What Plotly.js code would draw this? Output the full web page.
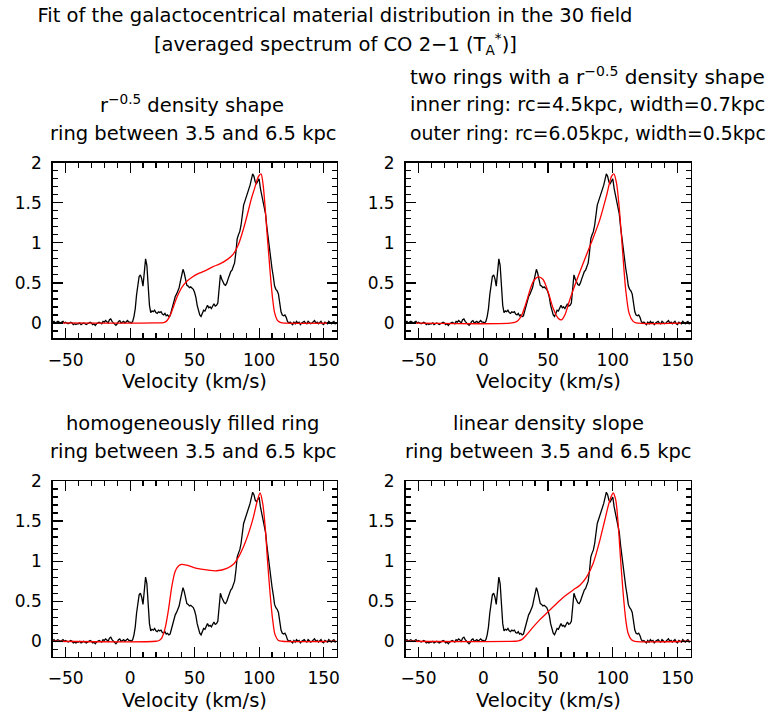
<!DOCTYPE html>
<html>
<head>
<meta charset="utf-8">
<script src="https://cdn.plot.ly/plotly-3.0.1.min.js"></script>
<style>html,body{margin:0;padding:0;background:#fff;} #chart{width:771px;height:715px;}</style>
</head>
<body>
<div id="chart"></div>
<script>
// Observed averaged CO 2-1 spectrum (velocity in km/s, T_A* in K)
const velocity = [
-60,-59,-58,-57,-56,-55,-54,-53,-52,-51,
-50,-49,-48,-47,-46,-45,-44,-43,-42,-41,
-40,-39,-38,-37,-36,-35,-34,-33,-32,-31,
-30,-29,-28,-27,-26,-25,-24,-23,-22,-21,
-20,-19,-18,-17,-16,-15,-14,-13,-12,-11,
-10,-9,-8,-7,-6,-5,-4,-3,-2,-1,
0,1,2,3,4,5,6,7,8,9,
10,11,12,13,14,15,16,17,18,19,
20,21,22,23,24,25,26,27,28,29,
30,31,32,33,34,35,36,37,38,39,
40,41,42,43,44,45,46,47,48,49,
50,51,52,53,54,55,56,57,58,59,
60,61,62,63,64,65,66,67,68,69,
70,71,72,73,74,75,76,77,78,79,
80,81,82,83,84,85,86,87,88,89,
90,91,92,93,94,95,96,97,98,99,
100,101,102,103,104,105,106,107,108,109,
110,111,112,113,114,115,116,117,118,119,
120,121,122,123,124,125,126,127,128,129,
130,131,132,133,134,135,136,137,138,139,
140,141,142,143,144,145,146,147,148,149,
150,151,152,153,154,155,156,157,158,159,
160];
const spectrum = [
0.01,0.02,0.0,0.01,0.02,0.01,0.0,0.01,0.02,0.0,
0.01,0.0,-0.01,0.0,0.01,0.0,-0.02,-0.01,-0.02,-0.01,
-0.01,0.0,-0.02,-0.01,0.0,-0.01,-0.02,-0.01,0.0,0.01,
0.0,-0.02,-0.01,-0.03,-0.01,0.0,0.01,0.0,-0.01,0.02,
0.01,0.03,0.02,0.0,0.04,0.05,0.02,0.0,-0.02,-0.03,
-0.01,0.02,0.03,0.0,0.01,0.02,0.0,0.01,0.03,0.01,
0.01,0.0,0.02,0.08,0.18,0.35,0.5,0.58,0.6,0.55,
0.46,0.65,0.8,0.72,0.5,0.22,0.13,0.15,0.14,0.16,
0.13,0.12,0.14,0.13,0.14,0.11,0.1,0.12,0.09,0.1,
0.08,0.09,0.15,0.22,0.3,0.33,0.36,0.4,0.44,0.52,
0.6,0.67,0.62,0.52,0.47,0.46,0.44,0.45,0.43,0.42,
0.38,0.32,0.22,0.15,0.1,0.08,0.12,0.16,0.15,0.2,
0.22,0.19,0.2,0.18,0.22,0.24,0.21,0.22,0.25,0.45,
0.6,0.55,0.52,0.48,0.47,0.5,0.55,0.6,0.64,0.66,
0.7,0.75,0.88,1.05,1.1,1.14,1.22,1.35,1.47,1.52,
1.58,1.64,1.67,1.72,1.8,1.86,1.83,1.76,1.74,1.78,
1.8,1.68,1.6,1.52,1.48,1.36,1.2,1.05,0.93,0.8,
0.68,0.58,0.46,0.42,0.4,0.36,0.26,0.14,0.1,0.09,
0.1,0.07,0.02,0.0,0.01,0.0,-0.02,0.01,-0.01,0.02,
0.0,0.01,-0.02,0.0,0.01,0.02,0.0,-0.01,0.02,0.01,
-0.01,0.0,0.02,0.03,0.0,0.01,-0.01,0.0,0.02,-0.01,
-0.02,0.01,0.0,-0.01,0.02,0.0,-0.01,0.01,0.02,-0.01,
0.0];

// Model fits (red curves)
const fit1V = [-60,20,26,28,30,32,34,36,38,40,44,48,52,58,64,70,76,80,84,88,91,94,96.5,98.5,100,101.5,103,104.5,106,107.5,109,110.5,112,114,116,118,160];
const fit1T = [0,0,0.005,0.02,0.06,0.13,0.22,0.31,0.38,0.44,0.52,0.57,0.61,0.65,0.7,0.74,0.8,0.86,0.98,1.18,1.36,1.55,1.68,1.79,1.84,1.86,1.74,1.48,1.15,0.85,0.55,0.3,0.13,0.04,0.01,0,0];

const fit2V = [-60,22,26,28.3,30,32,34,36,39,42.5,46,50,54,57.8,60.4,63,66.8,70.7,74.6,79.7,84.8,90,95,99,100.8,102.8,104.9,107.5,110,112.6,115.7,118,160];
const fit2T = [0,0,0.02,0.06,0.11,0.2,0.3,0.41,0.53,0.575,0.545,0.39,0.18,0.06,0.04,0.1,0.29,0.47,0.64,0.85,1.06,1.29,1.58,1.83,1.86,1.75,1.45,0.91,0.41,0.12,0.02,0,0];

const fit3V = [-60,20,22.5,24.5,27.1,29.7,32.3,34.9,37.5,40,43.9,51.7,59.4,67.2,75,80.1,84,87.9,91.7,95.6,98.7,100.8,102.8,104.7,106.5,108.5,110.5,112.4,115,118,160];
const fit3T = [0,0,0.01,0.04,0.16,0.39,0.68,0.87,0.94,0.96,0.95,0.91,0.89,0.88,0.91,0.96,1.05,1.18,1.34,1.55,1.76,1.85,1.72,1.43,1.01,0.6,0.27,0.08,0.01,0,0];

const fit4V = [-60,25,27,29.6,33.4,38.6,43.7,48.8,54,59.1,64.3,69.4,74.6,79.7,84.8,90,93.8,97.7,100.3,102.3,104.1,105.9,108,110,111.8,114.4,117,160];
const fit4T = [0,0,0.005,0.02,0.08,0.18,0.27,0.35,0.43,0.51,0.58,0.64,0.7,0.8,0.97,1.26,1.51,1.76,1.85,1.76,1.47,1.05,0.6,0.27,0.1,0.02,0,0];

const xTickStep = 50, xMinorStep = 10, yTickStep = 0.5, yMinorStep = 0.1;
const xRange = [-60, 160], yRange = [-0.19, 2];

const W = 771, H = 715;
const FONT = 'DejaVu Sans';
const fx = p => p / W;
const fy = p => 1 - p / H;

const fits = [[fit1V, fit1T], [fit2V, fit2T], [fit3V, fit3T], [fit4V, fit4T]];
const traces = [];
fits.forEach((f, i) => {
  const xa = i === 0 ? 'x' : 'x' + (i + 1);
  const ya = i === 0 ? 'y' : 'y' + (i + 1);
  traces.push({x: velocity, y: spectrum, type: 'scatter', mode: 'lines', xaxis: xa, yaxis: ya,
    line: {color: '#000000', width: 1.3}, hoverinfo: 'skip'});
  traces.push({x: f[0], y: f[1], type: 'scatter', mode: 'lines', xaxis: xa, yaxis: ya,
    line: {color: '#ff0000', width: 1.3, shape: 'spline', smoothing: 0.8}, hoverinfo: 'skip'});
});

const xDom = [[52.7, 336.5], [405.6, 690.5]];
const yDom = [[162.7, 338.2], [481, 656.5]];

function xAxis(d, anchor) {
  return {domain: [fx(d[0]), fx(d[1])], anchor: anchor, range: xRange,
    tick0: 0, dtick: xTickStep, ticks: 'inside', ticklen: 10, tickwidth: 1.2, tickcolor: '#000',
    minor: {dtick: xMinorStep, tick0: 0, ticks: 'inside', ticklen: 5, tickwidth: 1.2, tickcolor: '#000'},
    showline: true, linecolor: '#000', linewidth: 1.5, mirror: 'allticks',
    showgrid: false, zeroline: false, ticklabelstandoff: 6,
    tickfont: {family: FONT, size: 17, color: '#000'}};
}
function yAxis(d, anchor) {
  return {domain: [fy(d[1]), fy(d[0])], anchor: anchor, range: yRange,
    tick0: 0, dtick: yTickStep, ticks: 'inside', ticklen: 10, tickwidth: 1.2, tickcolor: '#000',
    minor: {dtick: yMinorStep, tick0: 0, ticks: 'inside', ticklen: 5, tickwidth: 1.2, tickcolor: '#000'},
    showline: true, linecolor: '#000', linewidth: 1.5, mirror: 'allticks',
    showgrid: false, zeroline: false, ticklabelstandoff: 6,
    tickfont: {family: FONT, size: 17, color: '#000'}};
}

const ann = (text, x, y, xanchor, size) => ({text: text, x: fx(x), y: fy(y), xref: 'paper', yref: 'paper',
  xanchor: xanchor || 'center', yanchor: 'middle', showarrow: false,
  font: {family: FONT, size: size || 19.5, color: '#000'}});

const annotations = [
  ann('[averaged spectrum of CO 2−1 (T<sub>A</sub><sup>*</sup>)]', 335.5, 44),
  ann('r<sup>−0.5</sup> density shape', 192, 104),
  ann('ring between 3.5 and 6.5 kpc', 193.5, 133),
  ann('two rings with a r<sup>−0.5</sup> density shape', 408, 76, 'left', 20),
  ann('inner ring: rc=4.5kpc, width=0.7kpc', 408, 104, 'left', 19.5),
  ann('outer ring: rc=6.05kpc, width=0.5kpc', 408, 133, 'left', 18.8),
  ann('homogeneously filled ring', 192, 423),
  ann('ring between 3.5 and 6.5 kpc', 193.5, 452),
  ann('linear density slope', 548, 423),
  ann('ring between 3.5 and 6.5 kpc', 548, 452),
  ann('Velocity (km/s)', 194, 381),
  ann('Velocity (km/s)', 548, 381),
  ann('Velocity (km/s)', 194, 700),
  ann('Velocity (km/s)', 548, 700)
];

const layout = {
  width: W, height: H, margin: {l: 0, r: 0, t: 0, b: 0},
  paper_bgcolor: '#fff', plot_bgcolor: '#fff', showlegend: false,
  title: {text: 'Fit of the galactocentrical material distribution in the 30 field',
    x: fx(335), xanchor: 'center', y: fy(15), yanchor: 'middle', yref: 'container',
    font: {family: FONT, size: 19.5, color: '#000'}},
  xaxis: xAxis(xDom[0], 'y'), yaxis: yAxis(yDom[0], 'x'),
  xaxis2: xAxis(xDom[1], 'y2'), yaxis2: yAxis(yDom[0], 'x2'),
  xaxis3: xAxis(xDom[0], 'y3'), yaxis3: yAxis(yDom[1], 'x3'),
  xaxis4: xAxis(xDom[1], 'y4'), yaxis4: yAxis(yDom[1], 'x4'),
  annotations: annotations
};

Plotly.newPlot('chart', traces, layout, {staticPlot: true, displayModeBar: false});
</script>
</body>
</html>
